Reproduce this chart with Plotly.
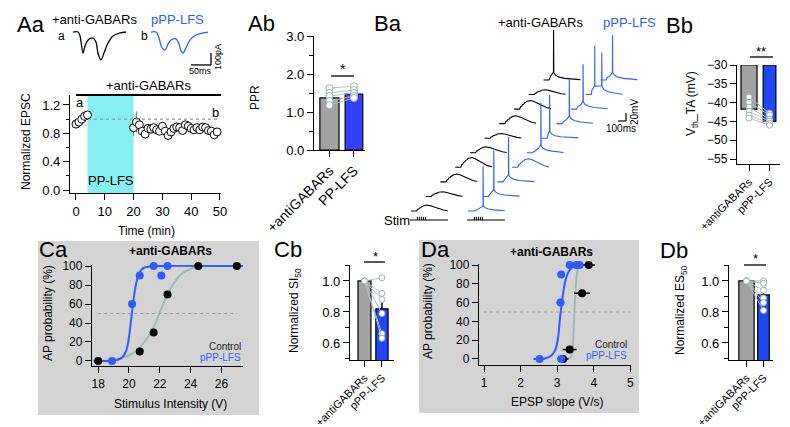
import plotly.graph_objects as go

W, H = 790, 427
FONT = "Liberation Sans, Arial, Helvetica, sans-serif"

BLUE = "#2f5cff"
BLUE_BAR = "#2147f5"
GRAY_BAR = "#a2a2a2"
PT_EDGE = "#9fb0b0"
PT_LINE = "#b4c0c0"
CYAN = "#86eff1"
BG_GRAY = "#d4d4d4"
FIT_GRAY = "#a3b8b8"
ERR_TEAL = "#6d8f8f"

# ================= DATA =================
# Aa: example EPSCs (ms, pA)
AA_CTRL_T = [0, 12.5, 17.5, 25, 30, 37.5, 50, 57.5, 62.5, 70, 77.5, 87.5, 100, 117.5, 132.5]
AA_CTRL_I = [0, 0, -33, -175, -117, -67, -50, -83, -175, -233, -175, -92, -33, -8, 0]
AA_LFS_T = [0, 12.5, 20, 27.5, 35, 42.5, 50, 62.5, 70, 75, 80, 87.5, 97.5, 112.5, 130, 142.5]
AA_LFS_I = [0, 0, -50, -133, -150, -100, -67, -58, -100, -158, -175, -133, -67, -25, -8, 0]
# Aa: normalized EPSC time course
AA_BASE_T = [0, 1, 2, 3, 4]
AA_BASE_V = [0.93, 0.96, 1.0, 1.04, 1.06]
AA_BASE_E = [0.03, 0.03, 0.03, 0.03, 0.03]
AA_POST_T = [20, 21, 22, 23, 24, 25, 26, 27, 28, 29, 30, 31, 32, 33, 34,
             35, 36, 37, 38, 39, 40, 41, 42, 43, 44, 45, 46, 47, 48, 49]
AA_POST_V = [0.88, 0.96, 0.92, 0.83, 0.79, 0.87, 0.86, 0.88, 0.85, 0.83, 0.90, 0.83, 0.77, 0.82, 0.87,
             0.89, 0.88, 0.84, 0.92, 0.90, 0.87, 0.85, 0.88, 0.85, 0.89, 0.88, 0.84, 0.83, 0.78, 0.82]
AA_POST_E = [0.12, 0.15, 0.07, 0.06, 0.06, 0.05, 0.06, 0.05, 0.06, 0.05, 0.06, 0.06, 0.07, 0.06, 0.05,
             0.05, 0.06, 0.06, 0.05, 0.06, 0.05, 0.05, 0.05, 0.06, 0.05, 0.05, 0.06, 0.05, 0.06, 0.05]

# Ab: PPR
AB_CATS = ["+antiGABARs", "PP-LFS"]
AB_MEAN = [1.37, 1.47]
AB_CTRL_PTS = [1.63, 1.50, 1.42, 1.29, 1.18]
AB_LFS_PTS = [1.68, 1.58, 1.50, 1.42, 1.37]

# Ba: voltage sweeps (ms, mV)
BA_EPSP_T = [0, 70, 84, 96, 108, 120, 134, 146, 160, 172, 188, 210, 250, 300, 350, 405, 460]
BA_EPSP_V = [0, 0, 0.3, 0.32, 0.52, 0.55, 0.72, 0.74, 0.88, 0.9, 1.0, 0.98, 0.86, 0.62, 0.38, 0.17, 0.05]
BA_PRE_T = [-110, -70, -35, -12, 0]
BA_PRE_V = [0.0, 0.25, 0.5, 0.78, 1.0]
BA_POST_T = [4, 25, 70, 140, 230, 320]
BA_POST_V = [0.9, 0.6, 0.35, 0.2, 0.1, 0.05]
BA_SWEEP_MS = 460
BA_STIM_T = [80, 105, 130, 155, 180]
BA_CTRL_AMP = [15, 12, 20, 25, 15, 12, 20, 22, 12, 20]
BA_CTRL_SPIKE_T = [[], [], [], [], [], [], [], [], [], [125]]
BA_CTRL_SPIKE_H = [[], [], [], [], [], [], [], [], [], [125]]
BA_LFS_AMP = [14, 18, 18, 22, 20, 18, 20, 20, 22, 20]
BA_LFS_SPIKE_T = [[188], [138], [138], [], [175], [100], [162], [150], [112, 200], [150]]
BA_LFS_SPIKE_H = [[112], [115], [112], [], [125], [108], [112], [112], [122, 105], [112]]

# Bb: threshold
BB_CATS = ["+antiGABARs", "pPP-LFS"]
BB_MEAN = [-41.7, -45.0]
BB_SEM = [1.2, 0.8]
BB_CTRL_PTS = [-38.5, -39.9, -41.2, -42.3, -43.3, -44.1]
BB_LFS_PTS = [-42.8, -43.3, -44.4, -44.9, -45.5, -46.0]

# Ca: AP probability vs stimulus intensity
CA_CTRL_X = [18, 20.7, 21.6, 22.5, 24.5, 27]
CA_CTRL_Y = [0, 10, 30, 70, 100, 100]
CA_LFS_X = [18.9, 20.2, 20.7, 21.6, 22.1, 22.5]
CA_LFS_Y = [0, 60, 90, 100, 90, 100]
CA_LFS_FIT_X = [17.7, 19.0, 19.5, 19.8, 20.0, 20.2, 20.4, 20.6, 20.8, 21.0, 21.3, 21.7, 27.4]
CA_LFS_FIT_Y = [0, 0.5, 3, 10, 25, 52, 76, 90, 96, 98.5, 99.5, 100, 100]
CA_CTRL_FIT_X = [17.9, 19, 19.5, 20, 20.5, 21, 21.5, 22, 22.5, 23, 23.5, 24, 24.5, 27.4]
CA_CTRL_FIT_Y = [0, 1, 3, 6, 11, 20, 32, 51, 70, 84, 93, 97, 99.5, 100]

# Cb
CB_CATS = ["+antiGABARs", "pPP-LFS"]
CB_MEAN = [1.0, 0.82]
CB_SEM = [0.0, 0.06]
CB_CTRL_PTS = [1.0, 1.0, 1.0, 1.0, 1.0, 1.0]
CB_LFS_PTS = [1.02, 0.92, 0.88, 0.79, 0.66, 0.63]

# Da: AP probability vs EPSP slope
DA_CTRL_X = [3.16, 3.34, 3.68, 3.86]
DA_CTRL_Y = [0, 10, 70, 100]
DA_CTRL_XERR = [0.15, 0.19, 0.22, 0.17]
DA_LFS_X = [2.52, 3.11, 3.09, 3.11, 3.34, 3.52, 3.61]
DA_LFS_Y = [0, 0, 60, 90, 100, 100, 100]
DA_LFS_XERR = [0.14, 0.1, 0.11, 0.1, 0.08, 0.08, 0.06]
DA_LFS_FIT_X = [2.35, 2.7, 2.85, 2.95, 3.02, 3.08, 3.12, 3.17, 3.22, 3.3, 3.4, 3.5, 3.62]
DA_LFS_FIT_Y = [0, 1, 4, 10, 22, 45, 58, 72, 83, 92, 97, 99.5, 100]
DA_CTRL_FIT_X = [3.2, 3.38, 3.42, 3.44, 3.47, 3.5, 3.53, 3.57, 3.62]
DA_CTRL_FIT_Y = [0, 2, 10, 25, 50, 72, 88, 97, 100]

# Db
DB_CATS = ["+antiGABARs", "pPP-LFS"]
DB_MEAN = [1.0, 0.91]
DB_SEM = [0.0, 0.045]
DB_CTRL_PTS = [1.0, 1.0, 1.0, 1.0, 1.0, 1.0]
DB_LFS_PTS = [1.0, 0.985, 0.94, 0.89, 0.86, 0.81]

# ================= LAYOUT HELPERS =================
fig = go.Figure()
axes = {}
ann = []
shapes = []


def axis_style(visible=True, size=13):
    if not visible:
        return dict(visible=False, fixedrange=True, showgrid=False, zeroline=False, automargin=False)
    return dict(showline=True, linecolor="black", linewidth=1.3, ticks="outside", ticklen=6,
                tickwidth=1.3, tickcolor="black", showgrid=False, zeroline=False, automargin=False,
                tickfont=dict(size=size, color="black", family=FONT), fixedrange=True)


def make_axes(n, px0, px1, py0, py1, xr, yr, xkw=None, ykw=None, visible=True, size=13):
    sfx = "" if n == 1 else str(n)
    xa = axis_style(visible, size)
    ya = axis_style(visible, size)
    xa.update(domain=[px0 / W, px1 / W], range=xr, anchor="y" + sfx)
    ya.update(domain=[1 - py1 / H, 1 - py0 / H], range=yr, anchor="x" + sfx)
    if xkw:
        xa.update(xkw)
    if ykw:
        ya.update(ykw)
    axes["xaxis" + sfx] = xa
    axes["yaxis" + sfx] = ya
    return "x" + sfx, "y" + sfx


def text(px, py, s, size=13, color="black", angle=0, xanchor="center", yanchor="middle", bold=False):
    if bold:
        s = "<b>" + s + "</b>"
    ann.append(dict(x=px / W, y=1 - py / H, xref="paper", yref="paper", text=s, showarrow=False,
                    font=dict(size=size, color=color, family=FONT), textangle=angle,
                    xanchor=xanchor, yanchor=yanchor))


def pline(x0, y0, x1, y1, color="black", width=1.3):
    shapes.append(dict(type="line", xref="paper", yref="paper", x0=x0 / W, y0=1 - y0 / H,
                       x1=x1 / W, y1=1 - y1 / H, line=dict(color=color, width=width)))


def prect(x0, y0, x1, y1, color):
    shapes.append(dict(type="rect", xref="paper", yref="paper", x0=x0 / W, y0=1 - y0 / H,
                       x1=x1 / W, y1=1 - y1 / H, fillcolor=color, line=dict(width=0), layer="below"))


def dline(xr, yr, x0, y0, x1, y1, color="black", width=1.3, dash=None):
    shapes.append(dict(type="line", xref=xr, yref=yr, x0=x0, y0=y0, x1=x1, y1=y1,
                       line=dict(color=color, width=width, dash=dash)))


PANEL = 22

# ================= Aa traces =================
xa1, ya1 = make_axes(1, 55, 215, 10, 65, [-25, 375], [-342, 117], visible=False)
AA_LFS_OFFSET = 195
fig.add_trace(go.Scatter(x=AA_CTRL_T, y=AA_CTRL_I, mode="lines", line=dict(color="black", width=1.3, shape="spline"),
                         xaxis=xa1, yaxis=ya1, hoverinfo="skip"))
fig.add_trace(go.Scatter(x=[t + AA_LFS_OFFSET for t in AA_LFS_T], y=AA_LFS_I, mode="lines",
                         line=dict(color=BLUE, width=1.3, shape="spline"), xaxis=xa1, yaxis=ya1, hoverinfo="skip"))
dline(xa1, ya1, 295, -275, 345, -275)
dline(xa1, ya1, 345, -275, 345, -175)
text(192, 63, "50ms", size=9)
text(210, 49, "100pA", size=9, angle=-90)
text(23, 16, "Aa", size=PANEL)
text(86, 11, "+anti-GABARs", size=13)
text(59, 28, "a", size=12, xanchor="right")
text(169, 11, "pPP-LFS", size=13, color=BLUE)
text(142, 28, "b", size=12, xanchor="right")

# ================= Aa time course =================
xa2, ya2 = make_axes(2, 62, 213, 87, 185, [-2.08, 50.35], [-0.042, 1.341],
                     xkw=dict(tick0=0, dtick=10),
                     ykw=dict(tick0=0, dtick=0.4, tickformat=".1f",
                              minor=dict(ticks="outside", dtick=0.2, ticklen=3, tickcolor="black", tickwidth=1.3)))
shapes.append(dict(type="rect", xref=xa2, yref=ya2 + " domain", x0=4, x1=20, y0=0, y1=1,
                   fillcolor=CYAN, line=dict(width=0), layer="below"))
dline(xa2, ya2, 0, 1.0, 50, 1.0, color="#8a9a9a", width=1.2, dash="dot")
for tx, vv, ee in [(AA_BASE_T, AA_BASE_V, AA_BASE_E), (AA_POST_T, AA_POST_V, AA_POST_E)]:
    fig.add_trace(go.Scatter(x=tx, y=vv, mode="markers",
                             marker=dict(size=8, color="white", line=dict(color="black", width=1)),
                             error_y=dict(type="data", array=ee, color=ERR_TEAL, thickness=1.2, width=0),
                             xaxis=xa2, yaxis=ya2, cliponaxis=False, hoverinfo="skip"))
pline(68, 87, 213, 87, width=2)
text(140, 78, "+anti-GABARs", size=13)
text(72, 94, "a", size=13)
text(207, 104, "b", size=13)
text(103, 172, "PP-LFS", size=13)
text(18, 134, "Normalized EPSC", size=12, angle=-90)
text(138, 223, "Time (min)", size=12)

# ================= Ab =================
xa3, ya3 = make_axes(3, 306, 357, 28, 142, [-0.63, 1.45], [0, 3],
                     xkw=dict(tickvals=[0, 1], ticktext=AB_CATS, tickangle=-45, tickfont=dict(size=14, family=FONT, color="black")),
                     ykw=dict(tick0=0, dtick=1, tickformat=".1f",
                              minor=dict(ticks="outside", dtick=0.5, ticklen=4, tickcolor="black", tickwidth=1.3)))
fig.add_trace(go.Bar(x=[0, 1], y=AB_MEAN, width=[0.78, 0.72], marker=dict(color=[GRAY_BAR, "#3340ff"], line=dict(color="black", width=1.2)),
                     xaxis=xa3, yaxis=ya3, hoverinfo="skip"))
for a, b in zip(AB_CTRL_PTS, AB_LFS_PTS):
    fig.add_trace(go.Scatter(x=[0, 1], y=[a, b], mode="lines+markers", line=dict(color=PT_LINE, width=1),
                             marker=dict(size=7, color="white", line=dict(color=PT_EDGE, width=1)),
                             xaxis=xa3, yaxis=ya3, hoverinfo="skip"))
pline(323, 68, 346, 68)
text(335, 61, "*", size=14)
text(253, 15, "Ab", size=PANEL)
text(247, 90, "PPR", size=12, angle=-90)

# ================= Ba =================
xa4, ya4 = make_axes(4, 370, 645, 10, 220, [-412.5, 3025], [-42.5, 482.5], visible=False)
BA_DX, BA_DY, BA_LFS_DX = 184, 36.4, 712


def sweep(amp, sp_t, sp_h):
    if not sp_t:
        return list(BA_EPSP_T), [amp * v for v in BA_EPSP_V]
    t = [0, BA_EPSP_T[1]]
    v = [0, 0]
    for k, (ts, hs) in enumerate(zip(sp_t, sp_h)):
        if k == 0:
            for dt, pv in zip(BA_PRE_T, BA_PRE_V):
                if ts + dt > t[-1]:
                    t.append(ts + dt)
                    v.append(amp * pv)
        else:
            t.append(ts)
            v.append(amp)
        t += [ts + 1, ts + 2]
        v += [hs, amp * 0.95]
    last = sp_t[-1]
    for dt, pv in zip(BA_POST_T, BA_POST_V):
        if last + dt < BA_SWEEP_MS:
            t.append(last + dt)
            v.append(amp * pv)
    t.append(BA_SWEEP_MS)
    v.append(amp * 0.04)
    return t, v


for i in range(len(BA_CTRL_AMP)):
    t, v = sweep(BA_CTRL_AMP[i], BA_CTRL_SPIKE_T[i], BA_CTRL_SPIKE_H[i])
    fig.add_trace(go.Scatter(x=[a + i * BA_DX for a in t], y=[b + i * BA_DY for b in v], mode="lines",
                             line=dict(color="black", width=1.1), xaxis=xa4, yaxis=ya4, hoverinfo="skip"))
for i in range(len(BA_LFS_AMP)):
    t, v = sweep(BA_LFS_AMP[i], BA_LFS_SPIKE_T[i], BA_LFS_SPIKE_H[i])
    fig.add_trace(go.Scatter(x=[a + i * BA_DX + BA_LFS_DX for a in t], y=[b + i * BA_DY for b in v], mode="lines",
                             line=dict(color=BLUE, width=1.1), xaxis=xa4, yaxis=ya4, hoverinfo="skip"))
STIM_Y = -22.5
for off in [0, BA_LFS_DX]:
    dline(xa4, ya4, -12.5 + off, STIM_Y, 462.5 + off, STIM_Y, width=1.1)
    for st in BA_STIM_T:
        dline(xa4, ya4, st + off, STIM_Y, st + off, STIM_Y + 8, width=1)
dline(xa4, ya4, 2587.5, 225, 2687.5, 225, width=1.2)
dline(xa4, ya4, 2687.5, 225, 2687.5, 245, width=1.2)
text(613, 121, "100ms", size=10)
text(626, 104, "20mV", size=10, angle=-90)
text(389, 212, "Stim", size=13)
text(380, 15, "Ba", size=PANEL)
text(532, 14, "+anti-GABARs", size=13)
text(621, 14, "pPP-LFS", size=13, color=BLUE)

# ================= Bb =================
BB_BASE = -30
xa5, ya5 = make_axes(5, 729, 772, 57, 156, [-0.585, 1.51], [-56.3, -30],
                     xkw=dict(tickvals=[0, 1], ticktext=BB_CATS, tickangle=-45, tickfont=dict(size=11, family=FONT, color="black")),
                     ykw=dict(tick0=-55, dtick=5, tickfont=dict(size=12, family=FONT, color="black")))
fig.add_trace(go.Bar(x=[0, 1], y=[m - BB_BASE for m in BB_MEAN], base=BB_BASE, width=[0.78, 0.62],
                     marker=dict(color=[GRAY_BAR, BLUE_BAR], line=dict(color="black", width=1.2)),
                     xaxis=xa5, yaxis=ya5, hoverinfo="skip"))
fig.add_trace(go.Scatter(x=[0, 1], y=BB_MEAN, mode="markers", marker=dict(size=1, opacity=0),
                         error_y=dict(type="data", array=[0, 0], arrayminus=BB_SEM, color="black", thickness=1.5, width=0),
                         xaxis=xa5, yaxis=ya5, hoverinfo="skip"))
for a, b in zip(BB_CTRL_PTS, BB_LFS_PTS):
    fig.add_trace(go.Scatter(x=[0, 1], y=[a, b], mode="lines+markers", line=dict(color=PT_LINE, width=1),
                             marker=dict(size=6, color="white", line=dict(color=PT_EDGE, width=1)),
                             xaxis=xa5, yaxis=ya5, hoverinfo="skip"))
pline(742, 49, 765, 49)
text(753, 43, "**", size=13)
text(671, 17, "Bb", size=PANEL)
text(684, 96, "V<sub>th</sub>_TA (mV)", size=12, angle=-90)

# ================= Ca =================
prect(30, 233, 251, 407, BG_GRAY)
xa6, ya6 = make_axes(6, 84, 235, 257, 358, [17.6, 27.4], [-5.3, 101.1],
                     xkw=dict(tick0=18, dtick=2), ykw=dict(tick0=0, dtick=20), size=12)
dline(xa6, ya6, 18, 50, 27, 50, color="#8fa5a5", width=1.2, dash="dot")
fig.add_trace(go.Scatter(x=CA_CTRL_FIT_X, y=CA_CTRL_FIT_Y, mode="lines", line=dict(color=FIT_GRAY, width=2, shape="spline"),
                         xaxis=xa6, yaxis=ya6, hoverinfo="skip"))
fig.add_trace(go.Scatter(x=CA_LFS_FIT_X, y=CA_LFS_FIT_Y, mode="lines", line=dict(color=BLUE, width=2, shape="spline"),
                         xaxis=xa6, yaxis=ya6, hoverinfo="skip"))
fig.add_trace(go.Scatter(x=CA_CTRL_X, y=CA_CTRL_Y, mode="markers", marker=dict(size=8, color="black"),
                         xaxis=xa6, yaxis=ya6, cliponaxis=False, hoverinfo="skip"))
fig.add_trace(go.Scatter(x=CA_LFS_X, y=CA_LFS_Y, mode="markers", marker=dict(size=8, color=BLUE),
                         xaxis=xa6, yaxis=ya6, cliponaxis=False, hoverinfo="skip"))
text(45, 242, "Ca", size=PANEL)
text(162, 243, "+anti-GABARs", size=12, bold=True)
text(235, 338, "Control", size=10, color="#222222", xanchor="right")
text(235, 349, "pPP-LFS", size=10, color=BLUE, xanchor="right")
text(40, 305, "AP probability (%)", size=12, angle=-90)
text(162, 396, "Stimulus Intensity (V)", size=12)

# ================= Cb =================
xa7, ya7 = make_axes(7, 342, 386, 257, 352, [-0.83, 1.69], [0.49, 1.103],
                     xkw=dict(tickvals=[0, 1], ticktext=CB_CATS, tickangle=-45, tickfont=dict(size=11, family=FONT, color="black")),
                     ykw=dict(tick0=0.6, dtick=0.2, tickformat=".1f",
                              minor=dict(ticks="outside", dtick=0.1, ticklen=4, tickcolor="black", tickwidth=1.3)))
fig.add_trace(go.Bar(x=[0, 1], y=CB_MEAN, width=[0.74, 0.7], marker=dict(color=[GRAY_BAR, BLUE_BAR], line=dict(color="black", width=1.2)),
                     xaxis=xa7, yaxis=ya7, hoverinfo="skip"))
fig.add_trace(go.Scatter(x=[0, 1], y=CB_MEAN, mode="markers", marker=dict(size=1, opacity=0),
                         error_y=dict(type="data", array=CB_SEM, arrayminus=[0, 0], color="black", thickness=1.5, width=0),
                         xaxis=xa7, yaxis=ya7, hoverinfo="skip"))
for a, b in zip(CB_CTRL_PTS, CB_LFS_PTS):
    fig.add_trace(go.Scatter(x=[0, 1], y=[a, b], mode="lines+markers", line=dict(color=PT_LINE, width=1),
                             marker=dict(size=6, color="white", line=dict(color=PT_EDGE, width=1)),
                             xaxis=xa7, yaxis=ya7, hoverinfo="skip", cliponaxis=False))
pline(356, 254, 377, 254)
text(367, 248, "*", size=13)
text(280, 242, "Cb", size=PANEL)
text(287, 303, "Normalized SI<sub>50</sub>", size=12, angle=-90)

# ================= Da =================
prect(411, 232, 631, 405, BG_GRAY)
xa8, ya8 = make_axes(8, 471, 623, 256, 357, [0.863, 5.016], [-6.4, 101.1],
                     xkw=dict(tick0=1, dtick=1), ykw=dict(tick0=0, dtick=20), size=12)
dline(xa8, ya8, 1, 50, 5, 50, color="#8fa5a5", width=1.2, dash="dot")
fig.add_trace(go.Scatter(x=DA_CTRL_FIT_X, y=DA_CTRL_FIT_Y, mode="lines", line=dict(color=FIT_GRAY, width=2, shape="spline"),
                         xaxis=xa8, yaxis=ya8, hoverinfo="skip"))
fig.add_trace(go.Scatter(x=DA_LFS_FIT_X, y=DA_LFS_FIT_Y, mode="lines", line=dict(color=BLUE, width=2, shape="spline"),
                         xaxis=xa8, yaxis=ya8, hoverinfo="skip"))
fig.add_trace(go.Scatter(x=DA_CTRL_X, y=DA_CTRL_Y, mode="markers", marker=dict(size=8, color="black"),
                         error_x=dict(type="data", array=DA_CTRL_XERR, color="black", thickness=1.5, width=0),
                         xaxis=xa8, yaxis=ya8, cliponaxis=False, hoverinfo="skip"))
fig.add_trace(go.Scatter(x=DA_LFS_X, y=DA_LFS_Y, mode="markers", marker=dict(size=8, color=BLUE),
                         error_x=dict(type="data", array=DA_LFS_XERR, color=BLUE, thickness=1.5, width=0),
                         xaxis=xa8, yaxis=ya8, cliponaxis=False, hoverinfo="skip"))
text(427, 242, "Da", size=PANEL)
text(543, 244, "+anti-GABARs", size=12, bold=True)
text(621, 336, "Control", size=10, color="#222222", xanchor="right")
text(621, 347, "pPP-LFS", size=10, color=BLUE, xanchor="right")
text(420, 303, "AP probability (%)", size=12, angle=-90)
text(549, 394, "EPSP slope (V/s)", size=12)

# ================= Db =================
xa9, ya9 = make_axes(9, 721, 765, 257, 352, [-1.03, 1.56], [0.49, 1.103],
                     xkw=dict(tickvals=[0, 1], ticktext=DB_CATS, tickangle=-45, tickfont=dict(size=11, family=FONT, color="black")),
                     ykw=dict(tick0=0.6, dtick=0.2, tickformat=".1f",
                              minor=dict(ticks="outside", dtick=0.1, ticklen=4, tickcolor="black", tickwidth=1.3)))
fig.add_trace(go.Bar(x=[0, 1], y=DB_MEAN, width=[0.9, 0.68], marker=dict(color=[GRAY_BAR, BLUE_BAR], line=dict(color="black", width=1.2)),
                     xaxis=xa9, yaxis=ya9, hoverinfo="skip"))
fig.add_trace(go.Scatter(x=[0, 1], y=DB_MEAN, mode="markers", marker=dict(size=1, opacity=0),
                         error_y=dict(type="data", array=DB_SEM, arrayminus=[0, 0], color="black", thickness=1.5, width=0),
                         xaxis=xa9, yaxis=ya9, hoverinfo="skip"))
for a, b in zip(DB_CTRL_PTS, DB_LFS_PTS):
    fig.add_trace(go.Scatter(x=[0, 1], y=[a, b], mode="lines+markers", line=dict(color=PT_LINE, width=1),
                             marker=dict(size=6, color="white", line=dict(color=PT_EDGE, width=1)),
                             xaxis=xa9, yaxis=ya9, hoverinfo="skip", cliponaxis=False))
pline(736, 257, 758, 257)
text(747, 250, "*", size=13)
text(666, 243, "Db", size=PANEL)
text(673, 302, "Normalized ES<sub>50</sub>", size=12, angle=-90)

fig.update_layout(width=W, height=H, margin=dict(l=0, r=0, t=0, b=0, pad=0, autoexpand=False),
                  paper_bgcolor="white", plot_bgcolor="rgba(0,0,0,0)", showlegend=False, barmode="overlay",
                  font=dict(family=FONT, size=13, color="black"),
                  annotations=ann, shapes=shapes, **axes)
fig.write_html("out.html")
